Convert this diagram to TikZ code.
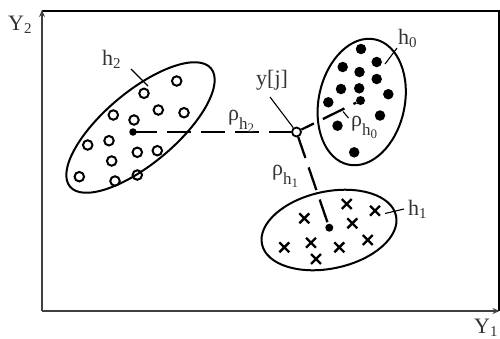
\documentclass[tikz,border=0pt]{standalone}
\usepackage{fontspec}
\setmainfont{Liberation Serif}
\usetikzlibrary{shapes.geometric,shapes.misc,arrows.meta}
\newcommand\mysub[2]{#1\raisebox{-3pt}{\fontsize{15}{15}\selectfont #2}}
\newcommand\myrho[1]{ρ\raisebox{-9pt}{\fontsize{17}{17}\selectfont h\raisebox{-3pt}{\fontsize{13}{13}\selectfont #1}}}
\begin{document}
\begin{tikzpicture}[x=1pt,y=-1pt,
 lbl/.style={inner sep=0, anchor=base west, text=black!80, font=\fontsize{22}{26}\selectfont},
 ell/.style={ellipse, draw, line width=2pt, inner sep=0},
 ring/.style={circle, draw, line width=2pt, minimum size=9.5pt, inner sep=0},
 dot/.style={circle, fill, minimum size=10.5pt, inner sep=0},
 cdot/.style={circle, fill, minimum size=8pt, inner sep=0},
 xmark/.style={cross out, draw, line width=2.4pt, minimum size=7.5pt, inner sep=0},
 dline/.style={line width=2.3pt, dash pattern=on 24pt off 10pt},
 lead/.style={line width=1.1pt},
 frame/.style={line width=1.4pt},
 tip/.style={-{Stealth[length=7pt,width=6pt]}}]
\useasboundingbox (0,0) rectangle (500,338);
% frame and axes
\coordinate (O) at (42,311);
\coordinate (TL) at (42,10);
\coordinate (TLf) at (42,11);
\coordinate (TR) at (499,11);
\coordinate (BR) at (499.5,311);
\draw[frame] (TLf) -- (TR) -- (499,311);
\draw[frame,tip,draw=black!75] (O) -- (TL);
\draw[frame,tip,draw=black!75] (O) -- (BR);
\node[lbl] (Y2) at (8,30) {\mysub{Y}{2}};
\node[lbl] (Y1) at (474,333) {\mysub{Y}{1}};
% ellipses
\node[ell, minimum width=184pt, minimum height=72pt, rotate=40] (E2) at (140.5,127.5) {};
\node[ell, minimum width=86pt, minimum height=128pt, rotate=-12] (E0) at (361.7,102) {};
\node[ell, minimum width=137pt, minimum height=77pt, rotate=12] (E1) at (329,230) {};
% h2 rings
\foreach \x/\y [count=\i] in {176.7/81, 144/93.3, 113.3/115, 134/120, 158.3/110, 184/112.7,
  87.7/145, 109/140.7, 137.3/152.3, 157.3/150.7, 111.7/161, 137.3/175, 115/181, 79.3/176.7}
  \node[ring] (r\i) at (\x,\y) {};
% h0 dots
\foreach \x/\y [count=\i] in {361/49, 342.7/67, 376.7/62, 359.5/72, 376.7/79, 341/89, 359.2/88.3,
  388.3/94.2, 328.3/102.3, 380/115.5, 337.5/125.7, 354.2/152.3}
  \node[dot] (d\i) at (\x,\y) {};
% h1 crosses
\foreach \x/\y [count=\i] in {346.7/204, 375/210.7, 304.3/218.3, 352.3/223.3, 367.7/240,
  311/242.7, 284.3/247.3, 339.3/247.3, 316/259}
  \node[xmark] (x\i) at (\x,\y) {};
% centres
\node[cdot, minimum size=7.5pt] (C2) at (133,132) {};
\node[cdot, minimum size=9pt] (C0) at (360.5,100.5) {};
\node[cdot] (C1) at (329.3,227.7) {};
\node[circle, draw, fill=white, line width=1.8pt, minimum size=9pt, inner sep=0] (Y) at (296.5,132) {};
% dashed distances
\draw[dline] (C2.center) -- (Y);
\draw[dline, dash phase=10pt] (Y) -- (C0);
\draw[dline, dash phase=2pt] (Y) -- (C1);
% labels and leaders
\node[lbl] (h2) at (102,65) {\mysub{h}{2}};
\coordinate (h2a) at (131,69); \coordinate (h2b) at (148,86);
\draw[lead] (h2a) -- (h2b);
\node[lbl] (h0) at (398,44) {\mysub{h}{0}};
\coordinate (h0a) at (397,48); \coordinate (h0b) at (385,64);
\draw[lead] (h0a) -- (h0b);
\node[lbl] (h1) at (408,215) {\mysub{h}{1}};
\coordinate (h1a) at (404,209); \coordinate (h1b) at (385,213.5);
\draw[lead] (h1a) -- (h1b);
\node[lbl] (yj) at (256,85) {y[j]};
\coordinate (yja) at (270,97);
\draw[lead] (yja) -- (Y);
\node[lbl] (rho2) at (228,120) {\myrho{2}};
\node[lbl] (rho0) at (351,126) {\myrho{0}};
\coordinate (r0a) at (343,111.5); \coordinate (r0b) at (348.5,118);
\draw[lead] (r0a) -- (r0b);
\node[lbl] (rho1) at (272,175) {\myrho{1}};
\end{tikzpicture}
\end{document}
